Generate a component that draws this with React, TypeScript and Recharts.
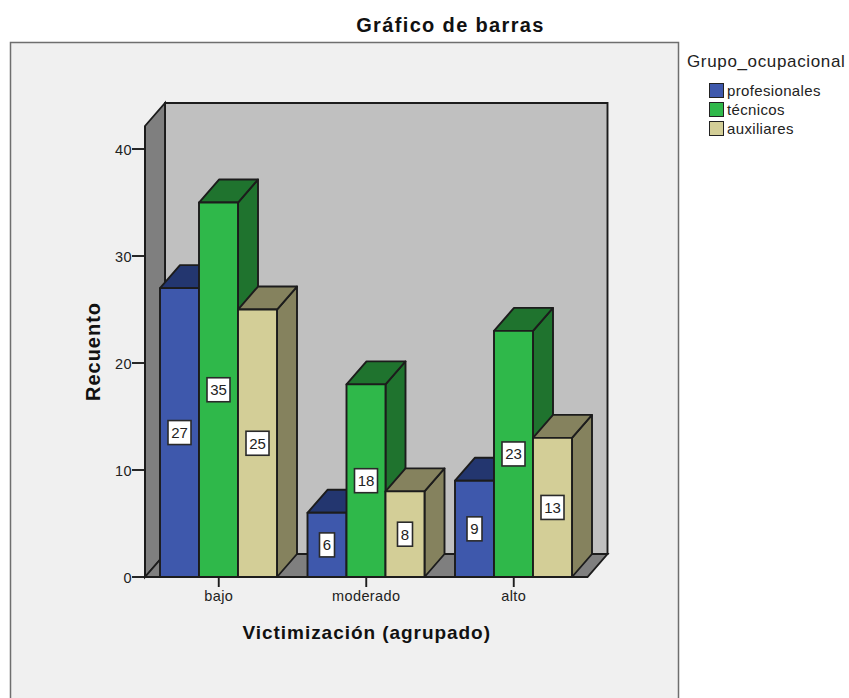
import React from 'react';
import { BarChart, Bar, XAxis, YAxis, LabelList, Legend, usePlotArea } from 'recharts';

const categories = ['bajo', 'moderado', 'alto'];
const profesionales = [27, 6, 9];
const tecnicos = [35, 18, 23];
const auxiliares = [25, 8, 13];
const yTicks = [0, 10, 20, 30, 40];

const chartData = categories.map((name, i) => ({
  name,
  profesionales: profesionales[i],
  tecnicos: tecnicos[i],
  auxiliares: auxiliares[i],
}));

const DX = 20;
const DY = 23;
const FONT = '"Liberation Sans", Arial, sans-serif';
const EDGE = '#1c1c1c';
const EDGE_WIDTH = 1.9;

const BLUE = { front: '#3e58ac', dark: '#23366f' };
const GREEN = { front: '#2fb84a', dark: '#1f732e' };
const TAN = { front: '#d3ce97', dark: '#85825e' };

const legendItems = [
  { label: 'profesionales', color: BLUE.front },
  { label: 'técnicos', color: GREEN.front },
  { label: 'auxiliares', color: TAN.front },
];

// frame, walls and floor behind the bars
const Backdrop = () => {
  const area = usePlotArea();
  if (!area) return null;
  const { x, y, width, height } = area;
  const bottom = y + height;
  const right = x + width;
  return (
    <g>
      <rect x={10.5} y={42.5} width={668} height={670} fill="#f0f0f0" stroke="#6e6e6e" strokeWidth={1.5} />
      <text
        x={450.5}
        y={32}
        textAnchor="middle"
        fontFamily={FONT}
        fontWeight="bold"
        fontSize={20}
        letterSpacing={1.35}
        fill="#111"
      >
        Gráfico de barras
      </text>
      <polygon
        points={`${x + DX},${y - DY} ${right + DX},${y - DY} ${right + DX},${bottom - DY} ${x + DX},${bottom - DY}`}
        fill="#c0c0c0"
        stroke={EDGE}
        strokeWidth={EDGE_WIDTH}
      />
      <polygon
        points={`${x},${y} ${x + DX},${y - DY} ${x + DX},${bottom - DY} ${x},${bottom}`}
        fill="#7f7f7f"
        stroke={EDGE}
        strokeWidth={EDGE_WIDTH}
      />
      <polygon
        points={`${x},${bottom} ${x + DX},${bottom - DY} ${right + DX},${bottom - DY} ${right},${bottom}`}
        fill="#7f7f7f"
        stroke={EDGE}
        strokeWidth={EDGE_WIDTH}
      />
    </g>
  );
};

const bar3d = (colors: { front: string; dark: string }) => (props: any) => {
  const { x, y, width, height } = props;
  const r = x + width;
  const b = y + height;
  return (
    <g stroke={EDGE} strokeWidth={EDGE_WIDTH} strokeLinejoin="round">
      <polygon points={`${r},${y} ${r + DX},${y - DY} ${r + DX},${b - DY} ${r},${b}`} fill={colors.dark} />
      <polygon points={`${x},${y} ${x + DX},${y - DY} ${r + DX},${y - DY} ${r},${y}`} fill={colors.dark} />
      <rect x={x} y={y} width={width} height={height} fill={colors.front} />
    </g>
  );
};

const ValueBox = (props: any) => {
  const { x, y, width, height, value } = props;
  const cx = x + width / 2;
  const cy = y + height / 2;
  const w = String(value).length > 1 ? 23 : 15;
  return (
    <g>
      <rect x={cx - w / 2} y={cy - 12} width={w} height={24} fill="#fff" stroke="#2a2a2a" strokeWidth={1.6} />
      <text x={cx} y={cy + 5.5} textAnchor="middle" fontFamily={FONT} fontSize={15} fill="#222">
        {value}
      </text>
    </g>
  );
};

const LegendBox = () => (
  <div style={{ fontFamily: FONT, color: '#222' }}>
    <div style={{ fontSize: 17, lineHeight: '20px', letterSpacing: 0.65, whiteSpace: 'nowrap' }}>Grupo_ocupacional</div>
    <div style={{ marginLeft: 22, marginTop: 9 }}>
      {legendItems.map((item) => (
        <div
          key={item.label}
          style={{ display: 'flex', alignItems: 'center', height: 19, fontSize: 15, letterSpacing: 0.35 }}
        >
          <span
            style={{
              display: 'inline-block',
              width: 13,
              height: 13,
              marginRight: 3,
              background: item.color,
              border: '1.5px solid #222',
            }}
          />
          {item.label}
        </div>
      ))}
    </div>
  </div>
);

const tickStyle = { fontFamily: FONT, fontSize: 14.5, letterSpacing: 0.4, fill: '#222' };
const axisLine = { stroke: EDGE, strokeWidth: EDGE_WIDTH };

export default function App() {
  return (
    <div style={{ position: 'absolute', left: 0, top: 0 }}>
      <BarChart
        width={849}
        height={698}
        data={chartData}
        margin={{ top: 126, right: 99.5, bottom: 91, left: 0 }}
        barGap={0}
        barSize={39}
      >
        <Backdrop />
        <XAxis
          dataKey="name"
          height={30}
          tick={{ ...tickStyle, dy: 2 }}
          tickSize={10}
          tickLine={axisLine}
          axisLine={axisLine}
          label={{
            value: 'Victimización (agrupado)',
            position: 'insideBottom',
            dy: 37,
            dx: 0.5,
            style: { fontFamily: FONT, fontWeight: 'bold', fontSize: 19, fill: '#111', letterSpacing: 0.95 },
          }}
        />
        <YAxis
          domain={[0, 42.15]}
          ticks={yTicks}
          tick={{ ...tickStyle, dy: 1, dx: 2 }}
          tickSize={13}
          tickLine={axisLine}
          axisLine={axisLine}
          width={145}
          label={{
            value: 'Recuento',
            angle: -90,
            position: 'center',
            dx: 20,
            style: { fontFamily: FONT, fontWeight: 'bold', fontSize: 20, fill: '#111', letterSpacing: 1 },
          }}
        />
        <Legend
          layout="horizontal"
          verticalAlign="middle"
          align="right"
          content={<LegendBox />}
          wrapperStyle={{ left: 687, top: 52, width: 162, right: 'auto', bottom: 'auto' }}
        />
        <Bar dataKey="profesionales" shape={bar3d(BLUE)} isAnimationActive={false}>
          <LabelList dataKey="profesionales" content={<ValueBox />} />
        </Bar>
        <Bar dataKey="tecnicos" shape={bar3d(GREEN)} isAnimationActive={false}>
          <LabelList dataKey="tecnicos" content={<ValueBox />} />
        </Bar>
        <Bar dataKey="auxiliares" shape={bar3d(TAN)} isAnimationActive={false}>
          <LabelList dataKey="auxiliares" content={<ValueBox />} />
        </Bar>
      </BarChart>
    </div>
  );
}
